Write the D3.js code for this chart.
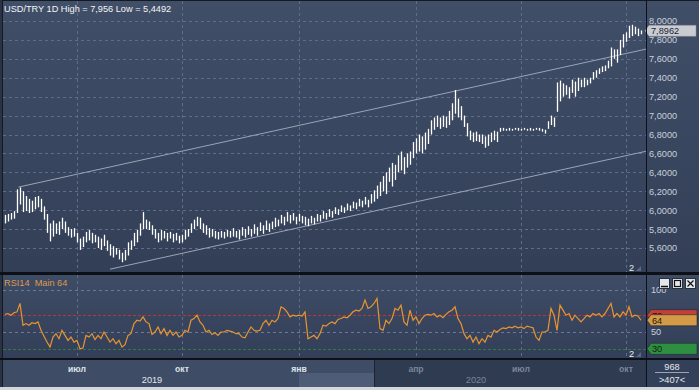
<!DOCTYPE html>
<html><head><meta charset="utf-8">
<script src="https://cdn.jsdelivr.net/npm/d3@7"></script>
<style>
body{margin:0;background:#d4d7dc;overflow:hidden}
svg{display:block}
text{font-family:"Liberation Sans",Arial,sans-serif;font-size:9.2px}
</style>
</head><body>
<svg id="c" width="699" height="390"></svg>
<script>
// ---------- DATA ----------
const title = "USD/TRY 1D High = 7,956 Low = 5,4492";
const rsiTitle = "RSI14  Main 64";
const highs = [
5.95,5.96,5.97,5.99,6.22,6.24,6.20,6.15,6.12,6.10,
6.14,6.15,6.12,6.04,5.96,5.86,5.89,5.86,5.88,5.92,
5.88,5.82,5.80,5.81,5.76,5.70,5.72,5.77,5.79,5.76,
5.74,5.72,5.70,5.74,5.68,5.64,5.62,5.60,5.58,5.55,
5.58,5.66,5.68,5.76,5.79,5.86,5.98,5.90,5.88,5.84,
5.80,5.76,5.79,5.78,5.76,5.77,5.75,5.76,5.73,5.74,
5.79,5.80,5.86,5.90,5.93,5.92,5.86,5.84,5.81,5.80,
5.78,5.77,5.78,5.77,5.79,5.78,5.81,5.78,5.79,5.82,
5.80,5.83,5.80,5.85,5.82,5.87,5.84,5.89,5.86,5.88,
5.92,5.90,5.95,5.93,5.98,5.95,5.97,5.93,5.96,5.94,
5.93,5.91,5.94,5.92,5.96,5.95,5.99,5.97,6.01,5.99,
6.03,6.01,6.05,6.03,6.07,6.05,6.09,6.08,6.12,6.10,
6.14,6.11,6.17,6.21,6.26,6.30,6.36,6.40,6.45,6.50,
6.48,6.58,6.62,6.56,6.60,6.62,6.72,6.76,6.80,6.78,
6.82,6.86,6.95,6.98,7.00,6.98,7.00,6.99,7.05,7.13,
7.27,7.18,7.10,7.00,6.92,6.84,6.82,6.83,6.80,6.80,
6.78,6.80,6.82,6.84,6.83,6.87,6.87,6.86,6.87,6.86,
6.87,6.87,6.86,6.87,6.86,6.87,6.86,6.87,6.87,6.86,
6.85,6.94,7.00,6.98,7.35,7.37,7.34,7.32,7.30,7.38,
7.36,7.40,7.38,7.40,7.38,7.40,7.46,7.48,7.50,7.52,
7.53,7.58,7.72,7.70,7.70,7.80,7.86,7.88,7.95,7.96,
7.94,7.92,7.90];
const lows = [
5.86,5.88,5.90,5.91,5.97,6.06,5.98,5.99,5.97,5.98,
6.01,6.03,5.98,5.90,5.76,5.67,5.72,5.75,5.74,5.80,
5.76,5.73,5.71,5.72,5.66,5.58,5.61,5.66,5.68,5.65,
5.66,5.60,5.58,5.62,5.57,5.52,5.50,5.53,5.48,5.45,
5.47,5.52,5.58,5.62,5.66,5.73,5.80,5.80,5.79,5.74,
5.70,5.66,5.68,5.70,5.67,5.70,5.66,5.68,5.65,5.66,
5.69,5.72,5.76,5.80,5.83,5.80,5.76,5.74,5.71,5.72,
5.70,5.69,5.71,5.70,5.72,5.71,5.72,5.71,5.69,5.73,
5.71,5.74,5.72,5.75,5.73,5.78,5.75,5.79,5.77,5.80,
5.82,5.83,5.86,5.84,5.88,5.86,5.89,5.85,5.88,5.86,
5.84,5.83,5.86,5.85,5.88,5.88,5.91,5.90,5.93,5.92,
5.96,5.95,5.98,5.97,6.00,5.99,6.02,6.01,6.04,6.03,
6.06,6.03,6.07,6.09,6.12,6.15,6.20,6.17,6.30,6.25,
6.32,6.40,6.42,6.38,6.45,6.48,6.55,6.60,6.62,6.60,
6.64,6.70,6.80,6.85,6.88,6.86,6.88,6.87,6.90,6.95,
7.02,6.98,6.95,6.88,6.78,6.74,6.72,6.73,6.72,6.70,
6.66,6.68,6.72,6.74,6.72,6.83,6.84,6.84,6.84,6.84,
6.85,6.84,6.84,6.85,6.84,6.84,6.84,6.85,6.84,6.83,
6.81,6.86,6.90,6.88,7.04,7.15,7.20,7.22,7.18,7.24,
7.20,7.26,7.30,7.30,7.32,7.34,7.38,7.40,7.44,7.46,
7.47,7.50,7.52,7.60,7.56,7.64,7.72,7.78,7.82,7.84,
7.86,7.84,7.86];
const rsi = [
71,72,70,73,74,84,58,60,58,61,
60,62,52,45,38,32,44,48,42,52,
46,40,44,38,40,30,31,46,44,48,
41,46,42,50,44,38,42,36,40,32,
35,46,48,60,64,63,68,62,60,47,
50,56,48,54,46,52,46,50,44,46,
52,50,64,66,70,62,58,50,52,47,
49,46,50,50,52,51,50,48,48,44,
43,50,56,52,51,52,60,64,58,64,
62,66,80,78,74,68,70,69,70,69,
74,42,44,46,42,48,58,57,60,62,
60,65,66,68,67,70,74,76,75,78,
88,78,80,84,90,54,52,64,60,66,
78,76,82,62,58,76,64,68,60,66,
70,71,70,72,68,70,67,71,74,76,
80,66,60,48,42,46,38,44,36,42,
38,46,44,52,50,53,55,54,56,55,
57,55,56,54,57,56,55,44,40,50,
50,52,78,70,52,82,76,70,72,64,
70,66,62,66,70,68,72,70,72,68,
72,78,84,68,72,68,74,70,80,68,
70,69,64];
const priceTicks = [8.0,7.8,7.6,7.4,7.2,7.0,6.8,6.6,6.4,6.2,6.0,5.8,5.6];
const monthTickIdx = [24,59,98,137,172,207];
const monthLabels = ["июл","окт","янв","апр","июл","окт"];
const yearIdx = [49,157];
const yearLabels = ["2019","2020"];
const channelUpper = [[4.5,6.244],[214,7.705]];
const channelLower = [[35,5.376],[214,6.625]];
const rsiGrid = [100,50];
const rsiLabels = [100,50];
const rsiOver = 70, rsiUnder = 30, rsiLast = 64;
const lastPrice = 7.8962;
const barsTotal = "968", barsVisible = ">407<";

// ---------- LAYOUT ----------
const svg = d3.select("#c");
const W = 699, H = 390;
const L = 3, R = 646;
const mainTop = 1, mainBot = 272;
const rsiTop = 275, rsiBot = 358;
const axTop = 360, axBot = 387;
const N = highs.length;
const fmt4 = d3.formatLocale({decimal:",",thousands:" ",grouping:[3],currency:["",""]}).format(".4f");

const x = d3.scaleLinear().domain([0, N-1]).range([5, 641]);
const yP = d3.scaleLinear().domain([5.6, 8.0]).range([248, 21]);
const yR = d3.scaleLinear().domain([30, 100]).range([348.8, 290]);

const defs = svg.append("defs");
function grad(id, c1, c2){
  const g = defs.append("linearGradient").attr("id", id).attr("x1",0).attr("y1",0).attr("x2",0).attr("y2",1);
  g.append("stop").attr("offset","0%").attr("stop-color",c1);
  g.append("stop").attr("offset","100%").attr("stop-color",c2);
}
grad("gMain","#414e68","#323f57");
grad("gRsi","#3f4c66","#333f58");
defs.append("clipPath").attr("id","clipMain").append("rect").attr("x",L).attr("y",mainTop).attr("width",R-L).attr("height",mainBot-mainTop);
defs.append("clipPath").attr("id","clipRsi").append("rect").attr("x",L).attr("y",rsiTop).attr("width",R-L).attr("height",rsiBot-rsiTop);

// frame
svg.append("rect").attr("width",W).attr("height",H).attr("fill","#141922");
svg.append("rect").attr("x",L).attr("y",mainTop).attr("width",R-L).attr("height",mainBot-mainTop).attr("fill","url(#gMain)");
svg.append("rect").attr("x",R+1).attr("y",mainTop).attr("width",W-R-1).attr("height",mainBot-mainTop).attr("fill","url(#gMain)");
svg.append("rect").attr("x",L).attr("y",rsiTop).attr("width",R-L).attr("height",rsiBot-rsiTop).attr("fill","url(#gRsi)");
svg.append("rect").attr("x",R+1).attr("y",rsiTop).attr("width",W-R-1).attr("height",rsiBot-rsiTop).attr("fill","url(#gRsi)");
// time axis panel
const splitX = 374;
svg.append("rect").attr("x",L).attr("y",axTop).attr("width",splitX-L).attr("height",axBot-axTop).attr("fill","#3e4c65");
svg.append("rect").attr("x",x(monthTickIdx[2])).attr("y",373).attr("width",splitX-x(monthTickIdx[2])).attr("height",axBot-373).attr("fill","#4e5c77");
svg.append("rect").attr("x",splitX+1).attr("y",axTop).attr("width",R-splitX-1).attr("height",axBot-axTop).attr("fill","#2f3b51");
svg.append("rect").attr("x",splitX).attr("y",axTop).attr("width",1).attr("height",axBot-axTop).attr("fill","#1c2230");
svg.append("rect").attr("x",R+1).attr("y",axTop).attr("width",W-R-1).attr("height",axBot-axTop).attr("fill","#33405a");
svg.append("rect").attr("x",0).attr("y",axBot).attr("width",W).attr("height",H-axBot).attr("fill","#d4d7dc");
svg.append("rect").attr("x",0).attr("y",0).attr("width",2).attr("height",axBot).attr("fill","#2a3344");

// ---------- MAIN PANEL ----------
const gm = svg.append("g").attr("clip-path","url(#clipMain)");
gm.selectAll(".hg").data(priceTicks).join("line")
  .attr("x1",L).attr("x2",R).attr("y1",d=>Math.round(yP(d))+0.5).attr("y2",d=>Math.round(yP(d))+0.5)
  .attr("stroke","#5f6d88").attr("stroke-dasharray","3,3").attr("stroke-width",1);
gm.selectAll(".vg").data(monthTickIdx).join("line")
  .attr("x1",d=>Math.round(x(d))+0.5).attr("x2",d=>Math.round(x(d))+0.5).attr("y1",mainTop).attr("y2",mainBot)
  .attr("stroke","#5f6d88").attr("stroke-dasharray","3,3");
const chLine = d3.line().x(d=>x(d[0])).y(d=>yP(d[1]));
[channelUpper, channelLower].forEach(c=>{
  gm.append("path").attr("d",chLine(c)).attr("fill","none").attr("stroke","#9ba4b6").attr("stroke-width",1);
});
gm.selectAll(".bar").data(d3.range(N)).join("line")
  .attr("x1",i=>Math.round(x(i))+0.5).attr("x2",i=>Math.round(x(i))+0.5)
  .attr("y1",i=>yP(lows[i])).attr("y2",i=>yP(highs[i]))
  .attr("stroke","#ffffff").attr("stroke-width",1.3);

svg.append("text").attr("x",4).attr("y",11.5).attr("fill","#f2f4f8").text(title);

// price axis
const pa = svg.append("g").attr("transform",`translate(${R},0)`)
  .call(d3.axisRight(yP).tickValues(priceTicks).tickSize(0).tickPadding(3).tickFormat(fmt4));
pa.select(".domain").remove();
pa.selectAll("text").attr("fill","#c9d0dc").style("font-family",'"Liberation Sans",Arial,sans-serif').style("font-size","9.2px");

// last price marker
const yl = yP(lastPrice);
svg.append("path").attr("d",`M${R-1},${yl} L${R+3},${yl-5.5} L${W-3},${yl-5.5} L${W-3},${yl+5.5} L${R+3},${yl+5.5} Z`)
  .attr("fill","#c9ccd1").attr("stroke","#8a8f98").attr("stroke-width",0.5);
svg.append("text").attr("x",R+5).attr("y",yl+3.3).attr("fill","#1b2233").text(fmt4(lastPrice));

// "2" markers
function twoMark(yb){
  svg.append("text").attr("x",629).attr("y",yb).attr("fill","#e8ebf0").text("2");
  svg.append("path").attr("d",`M636,${yb} L641,${yb} L641,${yb-5} Z`).attr("fill","#5d6984");
}
twoMark(271);

// ---------- RSI PANEL ----------
const gr = svg.append("g").attr("clip-path","url(#clipRsi)");
gr.selectAll(".rg").data(rsiGrid).join("line")
  .attr("x1",L).attr("x2",R).attr("y1",d=>Math.round(yR(d))+0.5).attr("y2",d=>Math.round(yR(d))+0.5)
  .attr("stroke","#6c7a95").attr("stroke-dasharray","3,3");
gr.append("line").attr("x1",L).attr("x2",R).attr("y1",Math.round(yR(rsiOver))+0.5).attr("y2",Math.round(yR(rsiOver))+0.5)
  .attr("stroke","#b8333a").attr("stroke-dasharray","3,2");
gr.append("line").attr("x1",L).attr("x2",R).attr("y1",Math.round(yR(rsiUnder))+0.5).attr("y2",Math.round(yR(rsiUnder))+0.5)
  .attr("stroke","#2f7d3c").attr("stroke-dasharray","3,2");
gr.selectAll(".vg").data(monthTickIdx).join("line")
  .attr("x1",d=>Math.round(x(d))+0.5).attr("x2",d=>Math.round(x(d))+0.5).attr("y1",rsiTop).attr("y2",rsiBot)
  .attr("stroke","#5f6d88").attr("stroke-dasharray","3,3");
gr.append("path").datum(rsi)
  .attr("d",d3.line().x((d,i)=>x(i)).y(d=>yR(d)))
  .attr("fill","none").attr("stroke","#e8952f").attr("stroke-width",1.2);
svg.append("text").attr("x",4).attr("y",285.5).attr("fill","#dc9a4e").style("white-space","pre").text(rsiTitle);
twoMark(357);

// rsi axis labels
svg.selectAll(".rl").data(rsiLabels).join("text")
  .attr("x",R+5).attr("y",d=>yR(d)+3.3).attr("fill","#c9d0dc").text(d=>d);
function tag(v, fill, txtFill){
  const yy = yR(v);
  svg.append("path").attr("d",`M${R+1},${yy} L${R+5},${yy-5.5} L${W-2},${yy-5.5} L${W-2},${yy+5.5} L${R+5},${yy+5.5} Z`)
    .attr("fill",fill).attr("stroke","#1b1f28").attr("stroke-width",0.5);
  svg.append("text").attr("x",R+6).attr("y",yy+3.3).attr("fill",txtFill).text(v);
}
tag(rsiOver,"#c0413b","#2a1010");
tag(rsiLast,"#d39b47","#22190c");
tag(rsiUnder,"#2f8f40","#0f2412");

// window buttons
const bx = [659,672,685];
bx.forEach((b,k)=>{
  svg.append("rect").attr("x",b+0.5).attr("y",278.5).attr("width",10).attr("height",10).attr("fill","#e3e6eb").attr("stroke","#2a2f38");
});
svg.append("line").attr("x1",661).attr("x2",668).attr("y1",286.5).attr("y2",286.5).attr("stroke","#111").attr("stroke-width",1.5);
svg.append("rect").attr("x",674.5).attr("y",280.5).attr("width",6).attr("height",6).attr("fill","none").attr("stroke","#111").attr("stroke-width",1.2);
svg.append("path").attr("d","M687.5,280.5 L693.5,286.5 M693.5,280.5 L687.5,286.5").attr("stroke","#111").attr("stroke-width",1.2);

// ---------- TIME AXIS ----------
svg.selectAll(".ml").data(monthLabels).join("text")
  .attr("x",(d,i)=>x(monthTickIdx[i])).attr("y",371.5).attr("text-anchor","middle")
  .attr("font-weight","bold").style("font-size","8.6px")
  .attr("fill",(d,i)=> x(monthTickIdx[i]) < splitX ? "#dfe3ea" : "#7c8699")
  .text(d=>d);
svg.selectAll(".yl").data(yearLabels).join("text")
  .attr("x",(d,i)=>x(yearIdx[i])).attr("y",382.5).attr("text-anchor","middle")
  .attr("fill",(d,i)=> x(yearIdx[i]) < splitX ? "#e3e6ec" : "#7c8699")
  .text(d=>d);
svg.append("text").attr("x",672).attr("y",370).attr("text-anchor","middle").attr("fill","#e6e9ee").text(barsTotal);
svg.append("line").attr("x1",655).attr("x2",689).attr("y1",372.5).attr("y2",372.5).attr("stroke","#9aa3b3");
svg.append("text").attr("x",672).attr("y",383).attr("text-anchor","middle").attr("fill","#e6e9ee").text(barsVisible);

// separators
svg.append("rect").attr("x",0).attr("y",mainBot).attr("width",W).attr("height",rsiTop-mainBot).attr("fill","#0d1016");
svg.append("rect").attr("x",0).attr("y",rsiBot).attr("width",W).attr("height",axTop-rsiBot).attr("fill","#0d1016");
svg.append("rect").attr("x",R).attr("y",0).attr("width",1).attr("height",axBot).attr("fill","#0d1016");
</script>
</body></html>
